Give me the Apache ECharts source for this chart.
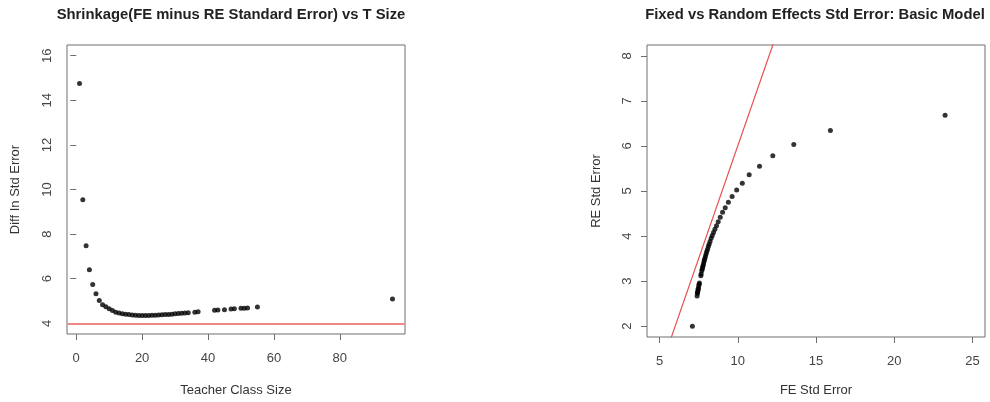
<!DOCTYPE html>
<html>
<head>
<meta charset="utf-8">
<script src="https://cdn.jsdelivr.net/npm/echarts@6/dist/echarts.min.js"></script>
<style>
  html, body { margin: 0; padding: 0; background: #fff; }
  #chart { width: 990px; height: 402px; }
</style>
</head>
<body>
<div id="chart"></div>
<script>
// Teacher class sizes and the gap between fixed- and random-effects standard errors
const classSize = [1, 2, 3, 4, 5, 6, 7, 8, 9, 10, 11, 12, 13, 14, 15, 16, 17, 18, 19, 20,
  21, 22, 23, 24, 25, 26, 27, 28, 29, 30, 31, 32, 33, 34, 36, 37,
  42, 43, 45, 47, 48, 50, 51, 52, 55, 96];
const seDiff = [14.75, 9.54, 7.48, 6.40, 5.74, 5.33, 5.02, 4.83, 4.74, 4.65, 4.57, 4.50, 4.46, 4.43,
  4.41, 4.39, 4.37, 4.36, 4.35, 4.35, 4.35, 4.35, 4.36, 4.36, 4.37, 4.38, 4.39, 4.40, 4.41, 4.43,
  4.44, 4.45, 4.46, 4.47, 4.50, 4.52, 4.59, 4.60, 4.61, 4.64, 4.65, 4.67, 4.68, 4.69, 4.73, 5.09];

// Fixed-effects vs random-effects standard errors (basic model)
const feSE = [23.25, 15.92, 13.58, 12.24, 11.39, 10.73, 10.29, 9.93, 9.64, 9.40, 9.20, 9.03, 8.88,
  8.75, 8.64, 8.54, 8.45, 8.37, 8.30, 8.23, 8.17, 8.12, 8.07, 8.02, 7.98, 7.94, 7.90, 7.87, 7.84,
  7.81, 7.78, 7.75, 7.73, 7.70, 7.66, 7.64, 7.55, 7.53, 7.51, 7.48, 7.47, 7.45, 7.43, 7.42, 7.40, 7.10];
const reSE = [6.68, 6.34, 6.03, 5.78, 5.55, 5.36, 5.17, 5.02, 4.88, 4.75, 4.63, 4.53, 4.42, 4.32,
  4.23, 4.15, 4.08, 4.01, 3.95, 3.88, 3.82, 3.77, 3.71, 3.66, 3.61, 3.56, 3.51, 3.47, 3.43, 3.38,
  3.34, 3.30, 3.27, 3.23, 3.16, 3.12, 2.96, 2.93, 2.90, 2.84, 2.82, 2.78, 2.75, 2.73, 2.67, 2.00];

// Tick positions
const leftXTicks = [0, 20, 40, 60, 80];
const leftYTicks = [4, 6, 8, 10, 12, 14, 16];
const rightXTicks = [5, 10, 15, 20, 25];
const rightYTicks = [2, 3, 4, 5, 6, 7, 8];

// Reference lines: horizontal at 4 (left), y = -4 + 1*x (right)
const shrinkRef = 4;
const refIntercept = -4;
const refSlope = 1;

// R-style padded limits (4% beyond the data limits)
function pad(lo, hi) { const d = (hi - lo) * 0.04; return [lo - d, hi + d]; }
const leftX = pad(1, 96);
const leftY = pad(4, 16);
const rightX = pad(5, 25);
const rightY = pad(2, 8);

const FONT = 'Liberation Sans, Arial, Helvetica, sans-serif';
const TXT = '#333';
const BOX = '#6e6e6e';

function valueAxis(idx, range, ticks, name, isY, nameGap) {
  return {
    type: 'value',
    gridIndex: idx,
    min: range[0],
    max: range[1],
    name: name,
    nameLocation: 'middle',
    nameGap: nameGap,
    nameRotate: isY ? 90 : 0,
    nameTextStyle: { fontFamily: FONT, fontSize: 13, color: TXT },
    axisLine: { show: false },
    splitLine: { show: false },
    axisTick: {
      show: true, inside: false, length: 6,
      customValues: ticks,
      lineStyle: { color: BOX, width: 1 }
    },
    axisLabel: {
      show: true,
      customValues: ticks,
      rotate: isY ? 90 : 0,
      margin: isY ? 13 : 18,
      fontFamily: FONT, fontSize: 13, color: '#444'
    }
  };
}

const chart = echarts.init(document.getElementById('chart'), null, { renderer: 'canvas' });

const titleStyle = { fontFamily: FONT, fontSize: 14.8, fontWeight: 'bold', fill: '#222', textAlign: 'center', textVerticalAlign: 'middle' };

chart.setOption({
  backgroundColor: '#fff',
  animation: false,
  graphic: [
    { type: 'text', x: 231, y: 15, style: Object.assign({ text: 'Shrinkage(FE minus RE Standard Error) vs T Size' }, titleStyle) },
    { type: 'text', x: 815, y: 15, style: Object.assign({ text: 'Fixed vs Random Effects Std Error: Basic Model' }, titleStyle) }
  ],
  grid: [
    { left: 67, top: 45, width: 338, height: 294, show: true, borderColor: BOX, borderWidth: 1, backgroundColor: 'transparent' },
    { left: 647, top: 45, width: 338, height: 294, show: true, borderColor: BOX, borderWidth: 1, backgroundColor: 'transparent' }
  ],
  xAxis: [
    valueAxis(0, leftX, leftXTicks, 'Teacher Class Size', false, 50),
    valueAxis(1, rightX, rightXTicks, 'FE Std Error', false, 47)
  ],
  yAxis: [
    valueAxis(0, leftY, leftYTicks, 'Diff In Std Error', true, 45),
    valueAxis(1, rightY, rightYTicks, 'RE Std Error', true, 44)
  ],
  series: [
    {
      type: 'scatter',
      xAxisIndex: 0, yAxisIndex: 0,
      data: classSize.map((c, i) => [c, seDiff[i]]),
      symbol: 'circle', symbolSize: 5,
      itemStyle: { color: '#000' },
      z: 3,
      markLine: {
        silent: true, symbol: 'none',
        label: { show: false },
        lineStyle: { color: '#f08888', width: 2.2, type: 'solid' },
        data: [{ yAxis: shrinkRef }]
      }
    },
    {
      type: 'scatter',
      xAxisIndex: 1, yAxisIndex: 1,
      data: feSE.map((f, i) => [f, reSE[i]]),
      symbol: 'circle', symbolSize: 5,
      itemStyle: { color: '#000' },
      z: 3
    },
    {
      type: 'line',
      xAxisIndex: 1, yAxisIndex: 1,
      data: [
        [rightX[0], refIntercept + refSlope * rightX[0]],
        [rightX[1], refIntercept + refSlope * rightX[1]]
      ],
      showSymbol: false, symbol: 'none',
      clip: true, silent: true,
      lineStyle: { color: '#e8504f', width: 1.2 },
      z: 2
    }
  ]
});
</script>
</body>
</html>
